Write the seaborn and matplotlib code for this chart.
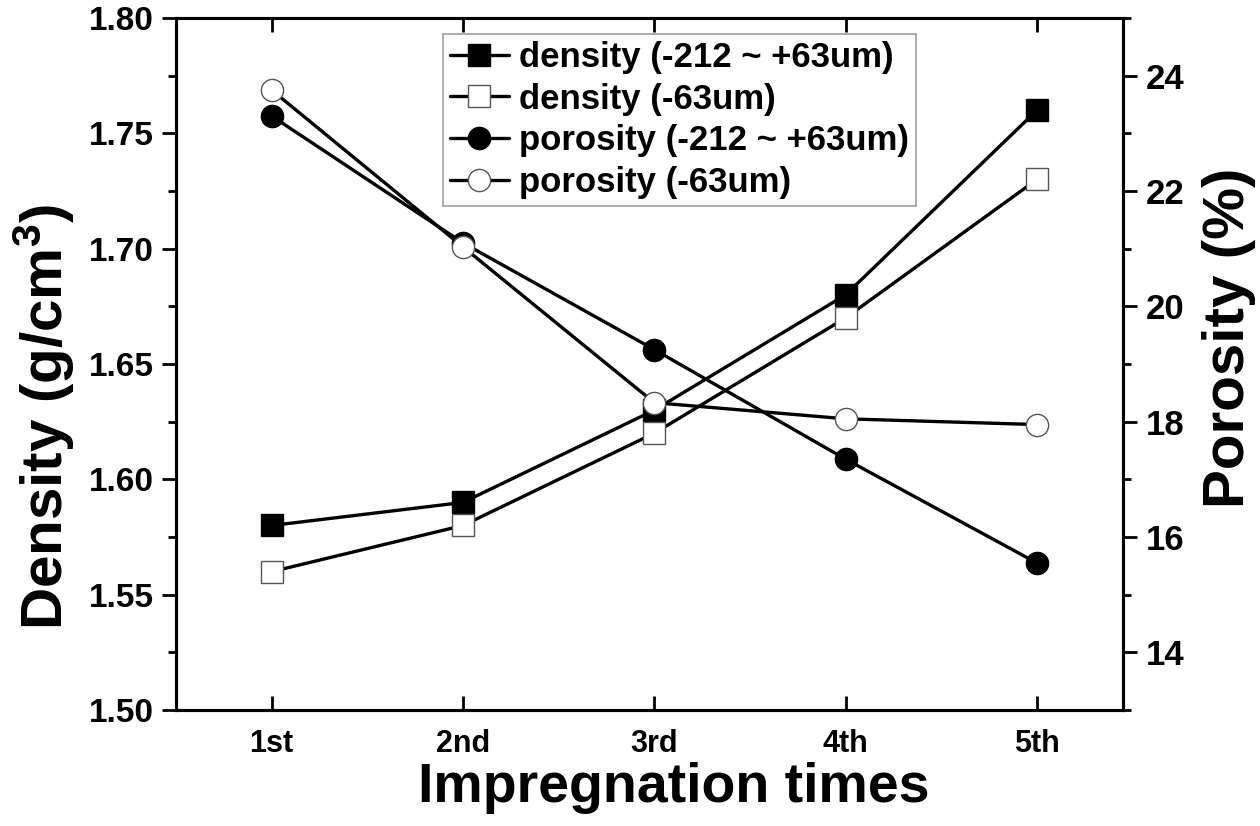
import numpy as np
import pandas as pd
import seaborn as sns
import matplotlib.pyplot as plt
from matplotlib.ticker import MultipleLocator

# data
times = ['1st', '2nd', '3rd', '4th', '5th']
density_coarse = [1.58, 1.59, 1.63, 1.68, 1.76]
density_fine = [1.56, 1.58, 1.62, 1.67, 1.73]
porosity_coarse = [23.3, 21.1, 19.25, 17.35, 15.55]
porosity_fine = [23.75, 21.03, 18.33, 18.05, 17.95]

labels = ['density (-212 ~ +63um)', 'density (-63um)',
          'porosity (-212 ~ +63um)', 'porosity (-63um)']

sns.set_style('ticks')
plt.rcParams['font.family'] = ['Liberation Sans', 'DejaVu Sans']
plt.rcParams['font.weight'] = 'bold'
plt.rcParams['mathtext.default'] = 'regular'
plt.rcParams['axes.linewidth'] = 2.2
for k in ['text.color', 'axes.labelcolor', 'xtick.color', 'ytick.color', 'axes.edgecolor']:
    plt.rcParams[k] = 'black'

df = pd.DataFrame({'time': times,
                   'dc': density_coarse, 'df': density_fine,
                   'pc': porosity_coarse, 'pf': porosity_fine})

fig = plt.figure(figsize=(12.6, 8.26), dpi=100)
ax = fig.add_axes([0.1397, 0.1404, 0.7516, 0.8378])
ax2 = ax.twinx()

line_kw = dict(color='black', linewidth=2.4, markersize=16, markeredgewidth=1.0)

sns.lineplot(data=df, x='time', y='dc', ax=ax, marker='s', markerfacecolor='black',
             markeredgecolor='black', label=labels[0], legend=False, **line_kw)
sns.lineplot(data=df, x='time', y='df', ax=ax, marker='s', markerfacecolor='white',
             markeredgecolor='#555555', label=labels[1], legend=False, **line_kw)
sns.lineplot(data=df, x='time', y='pc', ax=ax2, marker='o', markerfacecolor='black',
             markeredgecolor='black', label=labels[2], legend=False, **line_kw)
sns.lineplot(data=df, x='time', y='pf', ax=ax2, marker='o', markerfacecolor='white',
             markeredgecolor='#555555', label=labels[3], legend=False, **line_kw)

ax.set_xlim(-0.5, 4.45)
ax.set_ylim(1.50, 1.80)
ax2.set_ylim(13, 25)

ax.yaxis.set_minor_locator(MultipleLocator(0.025))
ax.set_yticks(np.arange(1.50, 1.801, 0.05))
ax.set_yticklabels(['%.2f' % v for v in np.arange(1.50, 1.801, 0.05)])
ax2.yaxis.set_minor_locator(MultipleLocator(1))
ax2.set_yticks(np.arange(14, 25, 2))

ax.tick_params(axis='y', direction='out', length=10, width=2, labelsize=24, pad=6,
               colors='black')
ax.tick_params(axis='y', which='minor', direction='out', length=6, width=2)
ax.tick_params(axis='x', direction='in', length=10, width=2, labelsize=22, pad=14,
               top=True, colors='black')
ax2.tick_params(axis='y', direction='out', length=10, width=2, labelsize=25, pad=6,
                colors='black')
ax2.tick_params(axis='y', which='minor', direction='out', length=6, width=2)

for t in ax.get_xticklabels() + ax.get_yticklabels() + ax2.get_yticklabels():
    t.set_fontweight('bold')

ax.set_xlabel('Impregnation times', fontsize=40, fontweight='bold')
ax.set_ylabel('Density (g/cm$^3$)', fontsize=42, fontweight='bold')
ax2.set_ylabel('Porosity (%)', fontsize=42, fontweight='bold')
ax.xaxis.set_label_coords(0.526, -0.075)
ax.yaxis.set_label_coords(-0.105, 0.423)
ax2.yaxis.set_label_coords(1.083, 0.538)

h1, l1 = ax.get_legend_handles_labels()
h2, l2 = ax2.get_legend_handles_labels()
leg = ax2.legend(h1 + h2, l1 + l2, loc='upper left',
                 bbox_to_anchor=(443 / 1260, 1 - 34 / 826), bbox_transform=fig.transFigure,
                 fontsize=25, frameon=True, fancybox=False, edgecolor='#888888',
                 handlelength=1.7, handletextpad=0.3, labelspacing=0.25, borderpad=0.2,
                 borderaxespad=0, markerscale=1.0)
leg.get_frame().set_linewidth(1.2)
for t in leg.get_texts():
    t.set_fontweight('bold')
    t.set_color('black')

fig.savefig('out.png', dpi=100)
